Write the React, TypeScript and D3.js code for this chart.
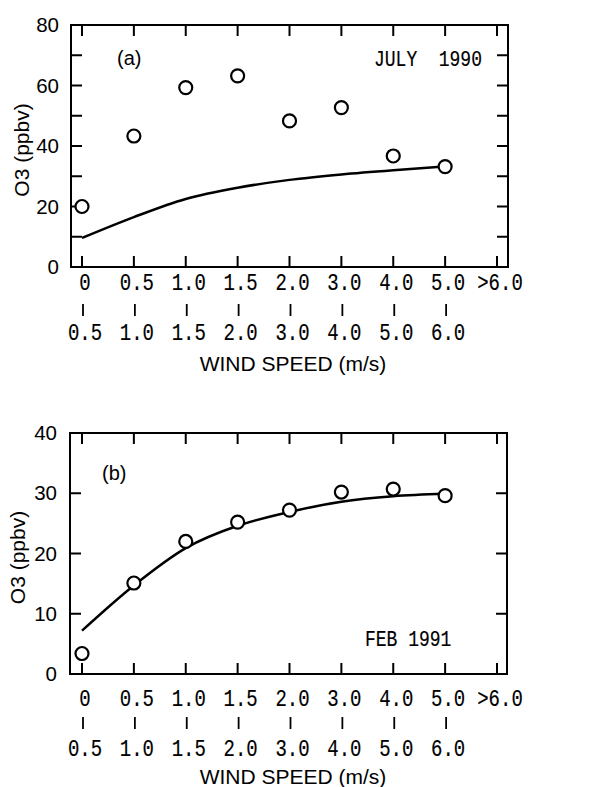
import React from 'react';
import * as d3 from 'd3';

// wind speed bins (lower / upper bound)
const binLower = ['0', '0.5', '1.0', '1.5', '2.0', '3.0', '4.0', '5.0', '>6.0'];
const binUpper = ['0.5', '1.0', '1.5', '2.0', '3.0', '4.0', '5.0', '6.0', ''];

// (a) July 1990
const julyObs = [20, 43.3, 59.3, 63.2, 48.3, 52.7, 36.7, 33.2];
const julyFit = [9.6, 16.5, 22.5, 26.2, 28.8, 30.6, 32.0, 33.2];
const julyTicks = [0, 20, 40, 60, 80];
const julyMinor = [10, 20, 30, 40, 50, 60, 70];

// (b) Feb 1991
const febObs = [3.4, 15.1, 22.0, 25.2, 27.2, 30.2, 30.7, 29.6];
const febFit = [7.2, 14.7, 20.9, 24.6, 26.9, 28.6, 29.5, 29.9];
const febTicks = [0, 10, 20, 30, 40];
const febMinor = [10, 20, 30];

const MONO = '"Liberation Mono", "DejaVu Sans Mono", monospace';
const SANS = '"Liberation Sans", Arial, sans-serif';

// typewriter-ish label: mono, a bit taller than wide
const Mono = ({ x, y, size = 19, anchor = 'middle', children }: any) => (
  <text transform={`translate(${x},${y}) scale(1,1.25)`} dy="0.35em" textAnchor={anchor}
    fontFamily={MONO} fontSize={size} stroke="#000" strokeWidth={0.15} xmlSpace="preserve">
    {children}
  </text>
);

type PanelProps = {
  top: number;
  bottom: number;
  left: number;
  right: number;
  yMax: number;
  obs: number[];
  fit: number[];
  ticks: number[];
  minor: number[];
  tag: string;
  tagPos: [number, number];
  title: string;
  titlePos: [number, number];
  rows: [number, number, number, number]; // offsets below frame: row1, bar, row2, axis title
  yLabelX: number;
  tickLabelX: number;
};

const Panel = (p: PanelProps) => {
  const x = d3.scalePoint<string>().domain(binLower).range([82, 497]);
  const y = d3.scaleLinear().domain([0, p.yMax]).range([p.bottom, p.top]);

  const line = d3
    .line<number>()
    .x((_, i) => x(binLower[i]) as number)
    .y((d) => y(d))
    .curve(d3.curveMonotoneX);

  const tl = 11;
  return (
    <g>
      <rect x={p.left} y={p.top} width={p.right - p.left} height={p.bottom - p.top}
        fill="none" stroke="#000" strokeWidth={2} />
      {binLower.map((c) => (
        <g key={'xt' + c}>
          <line x1={x(c)} x2={x(c)} y1={p.top} y2={p.top + tl} stroke="#000" strokeWidth={2} />
          <line x1={x(c)} x2={x(c)} y1={p.bottom} y2={p.bottom - tl} stroke="#000" strokeWidth={2} />
        </g>
      ))}
      {p.minor.map((v) => (
        <g key={'yt' + v}>
          <line x1={p.left} x2={p.left + tl} y1={y(v)} y2={y(v)} stroke="#000" strokeWidth={2} />
          <line x1={p.right} x2={p.right - tl} y1={y(v)} y2={y(v)} stroke="#000" strokeWidth={2} />
        </g>
      ))}
      {p.ticks.map((v) => (
        <text key={'yl' + v} x={p.tickLabelX} y={y(v)} dy="0.35em" textAnchor="end"
          fontFamily={SANS} fontSize={20.5}>{v}</text>
      ))}
      <text transform={`translate(${p.yLabelX},${(p.top + p.bottom) / 2 + 4}) rotate(-90)`}
        textAnchor="middle" dy="0.35em" fontFamily={SANS} fontSize={21}>O3 (ppbv)</text>

      {binLower.map((c, i) => (
        <g key={'bl' + c}>
          <Mono x={(x(c) as number) + 3} y={p.bottom + p.rows[0]}>{c}</Mono>
          {binUpper[i] && (
            <>
              <line x1={(x(c) as number) + 1} x2={(x(c) as number) + 1}
                y1={p.bottom + p.rows[1] - 6} y2={p.bottom + p.rows[1] + 6}
                stroke="#000" strokeWidth={1.8} />
              <Mono x={(x(c) as number) + 3} y={p.bottom + p.rows[2]}>{binUpper[i]}</Mono>
            </>
          )}
        </g>
      ))}
      <text x={293} y={p.bottom + p.rows[3]} dy="0.35em" textAnchor="middle"
        fontFamily={SANS} fontSize={21}>WIND SPEED (m/s)</text>

      <text x={p.tagPos[0]} y={p.tagPos[1]} dy="0.35em" fontFamily={SANS} fontSize={20}>{p.tag}</text>
      <Mono x={p.titlePos[0]} y={p.titlePos[1]} size={18} anchor="start">{p.title}</Mono>

      <path d={line(p.fit) ?? ''} fill="none" stroke="#000" strokeWidth={2.5} />
      {p.obs.map((v, i) => (
        <circle key={'o' + i} cx={x(binLower[i])} cy={y(v)} r={6.5}
          fill="#fff" stroke="#000" strokeWidth={2.2} />
      ))}
    </g>
  );
};

export default function App() {
  return (
    <svg width={616} height={787} style={{ position: 'absolute', left: 0, top: 0, background: '#fff' }}>
      <rect width={616} height={787} fill="#fff" />
      <Panel top={25} bottom={267} left={71} right={508} yMax={80}
        obs={julyObs} fit={julyFit} ticks={julyTicks} minor={julyMinor}
        tag="(a)" tagPos={[117, 58]} title="JULY  1990" titlePos={[374, 58]}
        rows={[15, 43, 65, 97]} yLabelX={22} tickLabelX={59} />
      <Panel top={433} bottom={674} left={70} right={507} yMax={40}
        obs={febObs} fit={febFit} ticks={febTicks} minor={febMinor}
        tag="(b)" tagPos={[102, 473]} title="FEB 1991" titlePos={[365, 638]}
        rows={[24, 49, 74, 103]} yLabelX={18} tickLabelX={57} />
    </svg>
  );
}
